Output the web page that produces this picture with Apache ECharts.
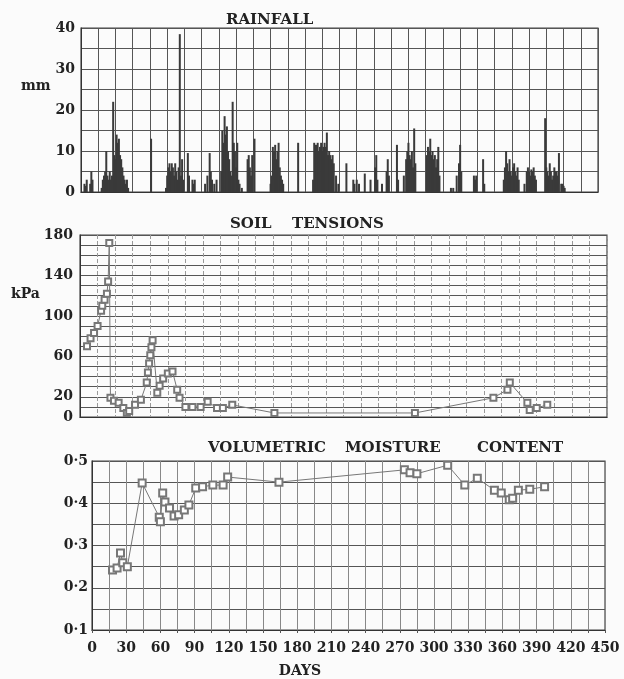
<!DOCTYPE html>
<html>
<head>
<meta charset="utf-8">
<script src="https://cdn.jsdelivr.net/npm/echarts@6/dist/echarts.min.js"></script>
<style>
html,body{margin:0;padding:0;background:#fbfbfb;}
#c{width:624px;height:679px;}
</style>
</head>
<body>
<div id="c"></div>
<script>
// ---- DATA ----
const rainDays = [3,4,5,8,9,10,
  18,19,20,21,22,23,24,25,26,27,28,29,30,31,32,33,34,35,36,37,38,39,40,41,
  61,
  74,75,76,77,78,79,80,81,82,83,84,85,86,87,88,89,93,94,97,98,99,
  108,110,112,113,114,116,118,122,123,124,125,126,127,128,129,130,131,132,133,134,135,136,137,138,140,
  145,146,147,148,149,151,
  165,166,167,168,169,170,171,172,173,174,175,176,189,
  202,203,204,205,206,207,208,209,210,211,212,213,214,215,216,217,218,219,220,222,224,
  231,237,238,240,242,247,252,256,257,258,262,266,267,268,275,276,281,
  283,284,285,286,287,288,289,290,291,
  301,302,303,304,305,306,307,308,309,310,311,312,
  322,324,327,329,330,331,342,343,344,350,351,
  368,369,370,371,372,373,374,375,376,377,378,379,380,381,
  386,388,389,390,391,392,393,394,395,396,
  404,405,406,407,408,409,410,411,412,413,414,415,416,418,419,420,421];
const rainMm = [2,1.5,3,2,5,3,
  1,3,4,5,10,4,3,5,3,4,22,9,8,14,12,13,9,8,6,4,3,2,3,1,
  13,
  1,4,6,7,5,7,6,4,7,5,3,6,38.5,4,8,3,9.5,4,3,2,3,
  2,4,9.5,5,3,2,3,5,15,12,18.5,14,16,10,8,5,4,22,12,10,6,12,3,2,1,
  8,9,6,4,9,13,
  2,4,11,10,11.5,8,10,12,6,4,3,2,12,
  3,12,11.5,11.5,12,10,11,12,10,11,12,11,14.5,9,10,9,8,9,7,4,2,
  7,3,2,3,2,4.5,3,6,9,3,2,5,8,4,11.5,3,4,
  8,10,12,9,8,10,6,15.5,7,
  9,11,10,13,9,10,8,9,6,8,11,4,
  1,1,4,7,11.5,5,4,3,4,8,2,
  3,6,10,7,5,8,5,4,6,7,5,4,6,3,
  2,5,6,5,4,5.5,5,6,4,3,
  18,6,5,4,7,5,3,4,6,5,5,4,9.5,2,2,1.5,1];

const tensionDays = [6,9,12,15,18,19,21,23,24,25,26,29,33,37,40,42,47,52,57,58,59,60,61,62,66,68,71,75,79,83,85,90,96,103,109,117,122,130,166,286,353,365,367,382,384,390,399];
const tensionKpa  = [70,78,83,90,105,110,116,122,134,172,19,16,14,9,4,6,12,17,34,44,53,61,69,76,24,31,38,43,45,27,19,10,10,10,15,9,9,12,4,4,19,27,34,14,7,9,12];

const moistDays = [18,22,25,27,31,44,59,60,62,64,68,72,76,81,85,91,97,106,115,119,164,274,279,285,312,327,338,353,359,366,369,374,384,397];
const moistVal  = [0.242,0.247,0.282,0.259,0.25,0.448,0.367,0.356,0.424,0.403,0.389,0.37,0.373,0.384,0.396,0.436,0.439,0.443,0.443,0.462,0.45,0.479,0.472,0.47,0.49,0.443,0.459,0.431,0.424,0.408,0.412,0.431,0.433,0.439];

const dayTicks = [0,30,60,90,120,150,180,210,240,270,300,330,360,390,420,450];
const rainTicks = [0,10,20,30,40];
const tensionTicks = [0,20,60,100,140,180];
const moistTicks = [0.1,0.2,0.3,0.4,0.5];

// ---- CHART ----
const FONT = '"DejaVu Serif", "Liberation Serif", serif';
const labelStyle = {fontFamily: FONT, fontWeight: 'bold', fontSize: 14, color: '#222'};
const chart = echarts.init(document.getElementById('c'), null, {renderer: 'canvas'});

function pairs(xs, ys){ return xs.map((x,i)=>[x, ys[i]]); }
function xAxisBase(idx, showLabels){
  return {
    type: 'value', gridIndex: idx, min: 0, max: 450, interval: 15,
    axisLine: {show: true, lineStyle: {color: '#333', width: 1.2}},
    axisTick: {show: showLabels, length: 3, lineStyle: {color: '#555'}},
    axisLabel: showLabels ? Object.assign({}, labelStyle, {
      margin: 11,
      formatter: v => dayTicks.indexOf(v) >= 0 ? String(v) : ''
    }) : {show: false},
    splitLine: {show: true, lineStyle: {
      color: idx === 0 ? '#555' : (idx === 1 ? '#999' : '#888'),
      width: 1, type: idx === 1 ? [4,2] : 'solid'}}
  };
}
function txt(t, x, y, size, align){
  return {type: 'text', x: x, y: y, silent: true,
    style: {text: t, fill: '#222', font: 'bold ' + size + 'px ' + FONT,
      align: align || 'left', verticalAlign: 'middle',
      textAlign: align || 'left', textVerticalAlign: 'middle'}};
}

const option = {
  backgroundColor: '#fbfbfb',
  animation: false,
  graphic: [
    txt('RAINFALL', 226, 20, 15),
    txt('SOIL', 230, 224, 15),
    txt('TENSIONS', 292, 224, 15),
    txt('VOLUMETRIC', 208, 448, 15),
    txt('MOISTURE', 345, 448, 15),
    txt('CONTENT', 477, 448, 15),
    txt('DAYS', 300, 671, 14, 'center'),
    txt('mm', 21, 86, 14),
    txt('kPa', 11, 294, 14)
  ],
  grid: [
    {left: 81, top: 28, width: 517, height: 164, show: true, borderColor: '#444', borderWidth: 1.2},
    {left: 80, top: 235, width: 527, height: 182, show: true, borderColor: '#444', borderWidth: 1.2},
    {left: 92, top: 461, width: 513, height: 169, show: true, borderColor: '#444', borderWidth: 1.2}
  ],
  xAxis: [xAxisBase(0, false), xAxisBase(1, false), xAxisBase(2, true)],
  yAxis: [
    {type: 'value', gridIndex: 0, min: 0, max: 40, interval: 5,
     axisLine: {show: true, lineStyle: {color: '#333'}}, axisTick: {show: false},
     axisLabel: Object.assign({}, labelStyle, {margin: 6, formatter: v => rainTicks.indexOf(v) >= 0 ? String(v) : ''}),
     splitLine: {lineStyle: {color: '#555', width: 1}}},
    {type: 'value', gridIndex: 1, min: 0, max: 180, interval: 10,
     axisLine: {show: true, lineStyle: {color: '#333'}}, axisTick: {show: false},
     axisLabel: Object.assign({}, labelStyle, {margin: 7, formatter: v => tensionTicks.indexOf(v) >= 0 ? String(v) : ''}),
     splitLine: {lineStyle: {color: '#555', width: 1}}},
    {type: 'value', gridIndex: 2, min: 0.1, max: 0.5, interval: 0.05,
     axisLine: {show: true, lineStyle: {color: '#333'}}, axisTick: {show: false},
     axisLabel: Object.assign({}, labelStyle, {margin: 4, formatter: v => {
       const r = Math.round(v * 100) / 100;
       return moistTicks.indexOf(r) >= 0 ? r.toFixed(1).replace('.', '·') : '';
     }}),
     splitLine: {lineStyle: {color: '#555', width: 1}}}
  ],
  series: [
    {type: 'bar', xAxisIndex: 0, yAxisIndex: 0, data: pairs(rainDays, rainMm),
     barWidth: 2, itemStyle: {color: '#3a3a3a'}},
    {type: 'line', xAxisIndex: 1, yAxisIndex: 1, data: pairs(tensionDays, tensionKpa),
     symbol: 'emptyRect', symbolSize: 6, lineStyle: {color: '#777', width: 1},
     itemStyle: {color: '#777', borderWidth: 1}},
    {type: 'line', xAxisIndex: 2, yAxisIndex: 2, data: pairs(moistDays, moistVal),
     symbol: 'emptyRect', symbolSize: 7, lineStyle: {color: '#777', width: 1},
     itemStyle: {color: '#777', borderWidth: 1}}
  ]
};
chart.setOption(option);
</script>
</body>
</html>
